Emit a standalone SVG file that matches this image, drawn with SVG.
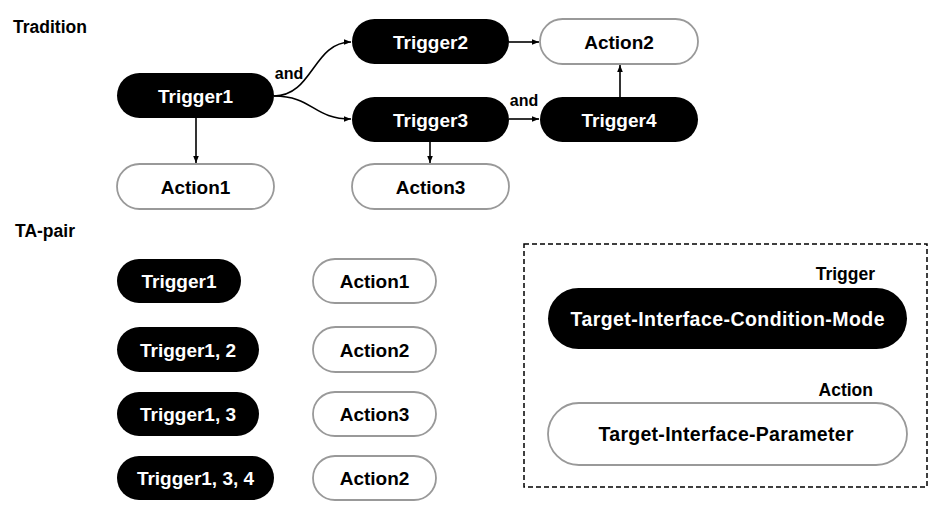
<svg xmlns="http://www.w3.org/2000/svg" width="950" height="518" viewBox="0 0 950 518">
<defs>
<marker id="arr" viewBox="0 0 10 10" refX="10" refY="5" markerWidth="7" markerHeight="7" orient="auto" markerUnits="userSpaceOnUse">
<path d="M0,1 L10,5 L0,9 z" fill="#000"/>
</marker>
<style>
.t{fill:#000}
.a{fill:#fff;stroke:#999;stroke-width:1.8}
.tt{fill:#fff;font-family:"Liberation Sans",Arial,sans-serif;font-weight:bold;font-size:19px;text-anchor:middle}
.at{fill:#000;font-family:"Liberation Sans",Arial,sans-serif;font-weight:bold;font-size:19px;text-anchor:middle}
.h{fill:#000;font-family:"Liberation Sans",Arial,sans-serif;font-weight:bold;font-size:17.5px}
.l{fill:#000;font-family:"Liberation Sans",Arial,sans-serif;font-weight:bold;font-size:16px;text-anchor:middle}
.c{fill:none;stroke:#000;stroke-width:1.6;marker-end:url(#arr)}
</style>
</defs>
<rect width="950" height="518" fill="#fff"/>
<text class="h" x="13" y="33">Tradition</text>
<text class="h" x="15" y="237">TA-pair</text>

<g id="connectors">
<path class="c" d="M274,96 C313,96 313,42 351,42"/>
<path class="c" d="M274,96 C313,96 313,119 351,119"/>
<path class="c" d="M196,118 L196,163"/>
<path class="c" d="M509,42 L539,42"/>
<path class="c" d="M509,119 L539,119"/>
<path class="c" d="M620,97 L620,65"/>
<path class="c" d="M430,142 L430,163"/>
<text class="l" x="289" y="79">and</text>
<text class="l" x="524" y="106">and</text>
</g>

<g id="t1"><rect class="t" x="117" y="73" width="157" height="45" rx="22.5"/><text class="tt" x="195.5" y="102.5">Trigger1</text></g>
<g id="a1"><rect class="a" x="117" y="164" width="157" height="45" rx="22.5"/><text class="at" x="195.5" y="193.5">Action1</text></g>
<g id="t2"><rect class="t" x="352" y="19" width="157" height="45" rx="22.5"/><text class="tt" x="430.5" y="48.5">Trigger2</text></g>
<g id="a2"><rect class="a" x="540" y="19" width="158" height="45" rx="22.5"/><text class="at" x="619" y="48.5">Action2</text></g>
<g id="t3"><rect class="t" x="352" y="97" width="157" height="45" rx="22.5"/><text class="tt" x="430.5" y="126.5">Trigger3</text></g>
<g id="t4"><rect class="t" x="540" y="97" width="158" height="45" rx="22.5"/><text class="tt" x="619" y="126.5">Trigger4</text></g>
<g id="a3"><rect class="a" x="352" y="164" width="157" height="45" rx="22.5"/><text class="at" x="430.5" y="193.5">Action3</text></g>

<g id="p1t"><rect class="t" x="117" y="259" width="124" height="44" rx="22"/><text class="tt" x="179" y="288">Trigger1</text></g>
<g id="p1a"><rect class="a" x="313" y="259" width="123" height="44" rx="22"/><text class="at" x="374.5" y="288">Action1</text></g>
<g id="p2t"><rect class="t" x="117" y="327" width="142" height="45" rx="22.5"/><text class="tt" x="188" y="356.5">Trigger1, 2</text></g>
<g id="p2a"><rect class="a" x="313" y="327" width="123" height="45" rx="22.5"/><text class="at" x="374.5" y="356.5">Action2</text></g>
<g id="p3t"><rect class="t" x="117" y="392" width="142" height="44" rx="22"/><text class="tt" x="188" y="421">Trigger1, 3</text></g>
<g id="p3a"><rect class="a" x="313" y="392" width="123" height="44" rx="22"/><text class="at" x="374.5" y="421">Action3</text></g>
<g id="p4t"><rect class="t" x="117" y="456" width="157" height="44" rx="22"/><text class="tt" x="195.5" y="485">Trigger1, 3, 4</text></g>
<g id="p4a"><rect class="a" x="313" y="456" width="123" height="44" rx="22"/><text class="at" x="374.5" y="485">Action2</text></g>

<g id="legend">
<rect x="524" y="244" width="403" height="243" fill="none" stroke="#000" stroke-width="1.5" stroke-dasharray="5,3"/>
<text class="h" x="875" y="280" text-anchor="end">Trigger</text>
<rect class="t" x="548" y="288" width="359" height="61" rx="30.5"/>
<text class="tt" x="727.5" y="325.5" style="font-size:19.5px" textLength="314" lengthAdjust="spacing">Target-Interface-Condition-Mode</text>
<text class="h" x="873" y="396" text-anchor="end">Action</text>
<rect class="a" x="548" y="403" width="359" height="62" rx="31"/>
<text class="at" x="726" y="441" style="font-size:19.5px" textLength="255" lengthAdjust="spacing">Target-Interface-Parameter</text>
</g>
</svg>
